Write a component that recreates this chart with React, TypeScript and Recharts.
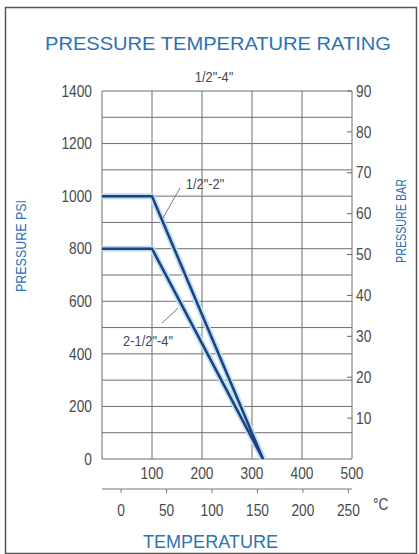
import React from 'react';
import {
  CartesianGrid,
  Line,
  LineChart,
  ReferenceDot,
  ReferenceLine,
  XAxis,
  YAxis,
} from 'recharts';

// temperature in °F, pressure in psi
const tempSmall = [0, 100, 322];
const psiSmall = [1000, 1000, 0];
const tempLarge = [0, 100, 322];
const psiLarge = [800, 800, 0];

const psiTicks = [0, 100, 200, 300, 400, 500, 600, 700, 800, 900, 1000, 1100, 1200, 1300, 1400];
const barTicks = [10, 20, 30, 40, 50, 60, 70, 80, 90];
const fTicks = [0, 100, 200, 300, 400, 500];
const cTicks = [0, 50, 100, 150, 200, 250];

const seriesNames = ['1/2"-2"', '2-1/2"-4"'];
// label anchors and leader lines, in °F / psi
const labelSpots = [
  { x: 206, y: 1045 },
  { x: 92, y: 450 },
];
const leaders = [
  [{ x: 156, y: 1031 }, { x: 122, y: 917 }],
  [{ x: 152, y: 574 }, { x: 120, y: 517 }],
];

const small = tempSmall.map((t, i) => ({ t, psi: psiSmall[i] }));
const large = tempLarge.map((t, i) => ({ t, psi: psiLarge[i] }));
// same curve in metric units, drawn invisibly so the °C / bar axes get built
const smallMetric = small.map((d) => ({ c: ((d.t - 32) * 5) / 9, bar: d.psi / 14.5 }));

const FONT = '"Liberation Sans", Arial, sans-serif';
const BLUE = '#2b72b6';
const GREY = '#4a4a4a';
const NAVY = '#1f3f7d';

function Narrow({ x, y, anchor = 'middle', size = 16, fill = GREY, sx = 0.86, children }: any) {
  return (
    <g transform={`translate(${x},${y}) scale(${sx},1)`}>
      <text x={0} y={0} textAnchor={anchor} fontSize={size} fill={fill} fontFamily={FONT}>
        {children}
      </text>
    </g>
  );
}

const PsiTick = ({ x, y, payload }: any) =>
  payload.value % 200 === 0 ? (
    <Narrow x={x} y={y + 5.7} anchor="end">{payload.value}</Narrow>
  ) : null;

const BarTick = ({ x, y, payload }: any) => (
  <g>
    <line x1={x - 9} x2={x - 4} y1={y} y2={y} stroke="#666" />
    <Narrow x={x} y={y + 5.7} anchor="start">{payload.value}</Narrow>
  </g>
);

const FTick = ({ x, y, payload }: any) =>
  payload.value === 0 ? null : (
    <Narrow x={x} y={y + 20}>{payload.value}</Narrow>
  );

const CTick = ({ x, y, payload }: any) => (
  <Narrow x={x} y={y + 21}>{payload.value}</Narrow>
);

const SeriesLabel = (text: string) => (props: any) => {
  const vb = props.viewBox || {};
  const cx = (vb.x ?? 0) + (vb.width ?? 0) / 2;
  const cy = (vb.y ?? 0) + (vb.height ?? 0) / 2;
  return (
    <Narrow x={cx} y={cy + 5} size={15}>{text}</Narrow>
  );
};

export default function App() {
  return (
    <div style={{ position: 'absolute', left: 0, top: 0, width: 419, height: 554, background: '#fff' }}>
      <LineChart width={419} height={554} margin={{ top: 91, right: 27, bottom: 35, left: 62 }}>
        <CartesianGrid xAxisId="x1" yAxisId="psi" stroke="#6e6e6e" strokeWidth={1} />
        <XAxis
          xAxisId="x1"
          type="number"
          dataKey="t"
          domain={[0, 500]}
          ticks={fTicks}
          interval={0}
          axisLine={false}
          tickLine={false}
          tickSize={0}
          tickMargin={0}
          height={30}
          tick={<FTick />}
        />
        <XAxis
          xAxisId="x2"
          type="number"
          dataKey="c"
          domain={[-21, 254]}
          allowDataOverflow
          ticks={cTicks}
          interval={0}
          axisLine={{ stroke: '#777' }}
          tickLine={{ stroke: '#777' }}
          tickSize={4}
          tickMargin={2}
          height={30}
          tick={<CTick />}
        />
        <YAxis
          yAxisId="psi"
          type="number"
          domain={[0, 1400]}
          ticks={psiTicks}
          interval={0}
          width={40}
          axisLine={false}
          tickLine={false}
          tickSize={4}
          tickMargin={6}
          tick={<PsiTick />}
        />
        <YAxis
          yAxisId="bar"
          orientation="right"
          type="number"
          dataKey="bar"
          domain={[0, 90]}
          allowDataOverflow
          ticks={barTicks}
          interval={0}
          width={40}
          axisLine={false}
          tickLine={false}
          tickSize={2}
          tickMargin={2}
          tick={<BarTick />}
        />
        <Line xAxisId="x2" yAxisId="bar" data={smallMetric} dataKey="bar" type="linear" stroke="none" strokeWidth={0} dot={false} isAnimationActive={false} />
        <Line xAxisId="x1" yAxisId="psi" data={small} dataKey="psi" type="linear" stroke="#b9def5" strokeWidth={6} dot={false} isAnimationActive={false} />
        <Line xAxisId="x1" yAxisId="psi" data={large} dataKey="psi" type="linear" stroke="#b9def5" strokeWidth={6} dot={false} isAnimationActive={false} />
        <Line xAxisId="x1" yAxisId="psi" data={small} dataKey="psi" name={seriesNames[0]} type="linear" stroke={NAVY} strokeWidth={2.5} dot={false} isAnimationActive={false} />
        <Line xAxisId="x1" yAxisId="psi" data={large} dataKey="psi" name={seriesNames[1]} type="linear" stroke={NAVY} strokeWidth={2.5} dot={false} isAnimationActive={false} />
        {leaders.map((seg, i) => (
          <ReferenceLine key={`l${i}`} xAxisId="x1" yAxisId="psi" segment={seg} stroke="#777" strokeWidth={1} />
        ))}
        {labelSpots.map((p, i) => (
          <ReferenceDot
            key={`d${i}`}
            xAxisId="x1"
            yAxisId="psi"
            x={p.x}
            y={p.y}
            r={0}
            fill="none"
            stroke="none"
            label={SeriesLabel(seriesNames[i])}
          />
        ))}
      </LineChart>
      <svg width={419} height={554} style={{ position: 'absolute', left: 0, top: 0, pointerEvents: 'none' }}>
        <rect x={5.5} y={7.5} width={411} height={546} fill="none" stroke="#555" strokeWidth={1.5} />
        <text x={45} y={50} fontSize={18.5} fill={BLUE} fontFamily={FONT} textLength={346} lengthAdjust="spacingAndGlyphs">
          PRESSURE TEMPERATURE RATING
        </text>
        <Narrow x={214} y={82} size={15}>1/2"-4"</Narrow>
        <text x={0} y={0} transform="translate(26,246) rotate(-90)" textAnchor="middle" fontSize={15} fill={BLUE} fontFamily={FONT} textLength={92} lengthAdjust="spacingAndGlyphs">
          PRESSURE PSI
        </text>
        <text x={0} y={0} transform="translate(406,221) rotate(-90)" textAnchor="middle" fontSize={15} fill={BLUE} fontFamily={FONT} textLength={84} lengthAdjust="spacingAndGlyphs">
          PRESSURE BAR
        </text>
        <Narrow x={373} y={510} anchor="start" size={16}>°C</Narrow>
        <text x={143} y={548} fontSize={18} fill={BLUE} fontFamily={FONT} textLength={135} lengthAdjust="spacingAndGlyphs">
          TEMPERATURE
        </text>
      </svg>
    </div>
  );
}
